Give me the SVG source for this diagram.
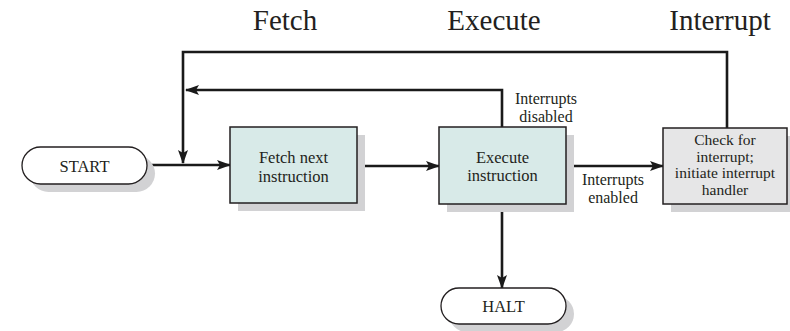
<svg xmlns="http://www.w3.org/2000/svg" width="790" height="331" viewBox="0 0 790 331">
<defs>
<marker id="ah" markerUnits="userSpaceOnUse" markerWidth="14" markerHeight="10" refX="13" refY="5" orient="auto">
<path d="M0,0 L14,5 L0,10 L3,5 Z" fill="#1a1a1a"/>
</marker>
<style>
text{font-family:"Liberation Serif","Times New Roman",serif;fill:#231f20;text-anchor:middle}
.hdr{font-size:29px}
.t{font-size:16.5px}
.tc{font-size:15.5px}
.lbl{font-size:16px}
.sh{fill:#d2d2d4}
.box{stroke:#231f20;stroke-width:1.5}
.teal{fill:#d8eae8}
.gray{fill:#e6e6e7}
.oval{fill:#ffffff;stroke:#231f20;stroke-width:1.3}
.c{fill:none;stroke:#1a1a1a;stroke-width:2.6}
</style>
</defs>
<rect width="790" height="331" fill="#ffffff"/>
<text class="hdr" x="285" y="30">Fetch</text>
<text class="hdr" x="494" y="30">Execute</text>
<text class="hdr" x="720" y="30">Interrupt</text>

<g id="connectors">
<path class="c" d="M727,128 V52 H183 V163" marker-end="url(#ah)"/>
<path class="c" d="M502,127 V90 H186" marker-end="url(#ah)"/>
<path class="c" d="M147,165 H230" marker-end="url(#ah)"/>
<path class="c" d="M357,166 H439" marker-end="url(#ah)"/>
<path class="c" d="M566,166 H663" marker-end="url(#ah)"/>
<path class="c" d="M502,204 V288" marker-end="url(#ah)"/>
<text class="lbl" x="546" y="104">Interrupts</text>
<text class="lbl" x="546" y="122">disabled</text>
<text class="lbl" x="613" y="185">Interrupts</text>
<text class="lbl" x="613" y="203">enabled</text>
</g>

<g id="start">
<rect class="sh" x="30" y="155" width="125" height="37" rx="18.5"/>
<rect class="oval" x="22" y="147" width="125" height="37" rx="18.5"/>
<text class="t" x="84.5" y="171.5">START</text>
</g>

<g id="fetch">
<rect class="sh" x="238" y="135" width="127" height="76"/>
<rect class="box teal" x="230" y="127" width="127" height="76"/>
<text class="t" x="293.5" y="163">Fetch next</text>
<text class="t" x="293.5" y="182">instruction</text>
</g>

<g id="execute">
<rect class="sh" x="447" y="135" width="127" height="77"/>
<rect class="box teal" x="439" y="127" width="127" height="77"/>
<text class="t" x="502.5" y="163">Execute</text>
<text class="t" x="502.5" y="181">instruction</text>
</g>

<g id="check">
<rect class="sh" x="671" y="136" width="124" height="76"/>
<rect class="box gray" x="663" y="128" width="124" height="76"/>
<text class="tc" x="725" y="145">Check for</text>
<text class="tc" x="725" y="161.5">interrupt;</text>
<text class="tc" x="725" y="178">initiate interrupt</text>
<text class="tc" x="725" y="194.5">handler</text>
</g>

<g id="halt">
<rect class="sh" x="449" y="296" width="125" height="36" rx="18"/>
<rect class="oval" x="441" y="288" width="125" height="36" rx="18"/>
<text class="t" x="503.5" y="312">HALT</text>
</g>
</svg>
